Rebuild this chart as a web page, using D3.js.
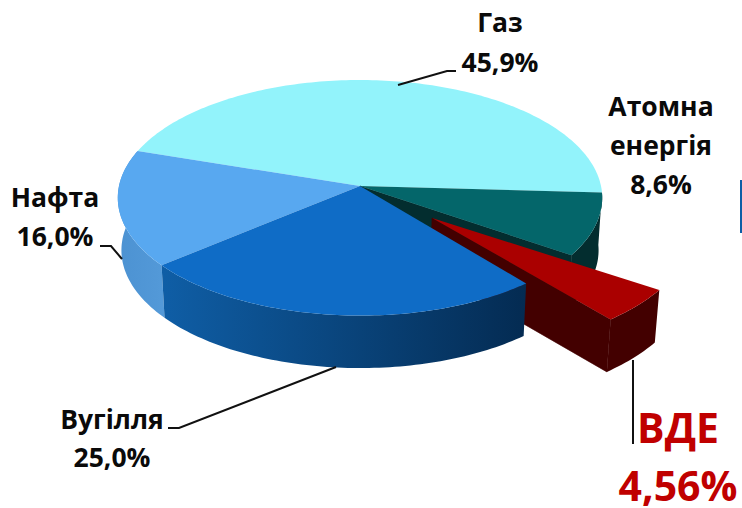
<!DOCTYPE html>
<html><head><meta charset="utf-8">
<script src="https://cdn.jsdelivr.net/npm/d3@7"></script>
<style>html,body{margin:0;padding:0;background:#fff}svg{display:block}text{font-family:"Open Sans",sans-serif;font-weight:700}</style>
</head><body><svg id="c" width="742" height="508"></svg>
<script>
const categories = ["Газ","Атомна енергія","ВДЕ","Вугілля","Нафта"];
const values = [45.9,8.6,4.56,25.0,16.0];
const topColors = ["#92f3fb","#04666a","#aa0000","#0f6cc6","#58a8f0"];
const rimLeft = ["#92f3fb","#032d2f","#430000","#0f5ea6","#4c92d2"];
const rimRight = ["#92f3fb","#032d2f","#430000","#042b52","#5399d8"];
const wallColors = [null,"#032d2f","#430000",null,null];
const exploded = [0,0,1,0,0];
const drawOrder = [0,1,2,4,3];
const labelLines = [
  {lines:["Газ","45,9%"],x:500,y:[32,72],size:26.5,fill:"#0a0a0a"},
  {lines:["Атомна","енергія","8,6%"],x:661,y:[116,155,194],size:26.5,fill:"#0a0a0a"},
  {lines:["Нафта","16,0%"],x:55,y:[207,246],size:26.5,fill:"#0a0a0a"},
  {lines:["Вугілля","25,0%"],x:112,y:[429,467],size:26.5,fill:"#0a0a0a"},
  {lines:["ВДЕ","4,56%"],x:678,y:[443,501],size:41,fill:"#c00000"}
];
const leaders = [
  [[398,85],[447,71],[456,71]],
  [[100,246],[111,246],[122,259]],
  [[168,428],[179,428],[336,367]],
  [[633,360],[633,444]]
];
const svg = d3.select("#c");
const defs = svg.append("defs");
const cx=360, cy=186, R=241, r=116.6, k=0.1, depth=52.5, baseScale=0.985;
const pie = d3.pie().sort(null).value(d=>d)
  .startAngle(-72*Math.PI/180).endAngle(288*Math.PI/180);
const arcs = pie(values);
const line = d3.line();
function proj(a){const s=Math.sin(a),c=Math.cos(a),w=1+k*c;return [cx+R*s/w,cy-r*c/w];}
const shift = p=>[cx+72+(p[0]-cx)*1.075, cy+32+(p[1]-cy)*1.04];
const down = p=>[cx+(p[0]-cx)*baseScale, p[1]+depth];
function arcPts(a0,a1,f){
  const n=Math.max(2,Math.ceil((a1-a0)/0.02));
  return d3.range(n+1).map(i=>f(proj(a0+(a1-a0)*i/n)));
}
const center=[cx,cy];
function paint(i){
  const d=arcs[i], f=exploded[i]?shift:(p=>p);
  const top=arcPts(d.startAngle,d.endAngle,f);
  const base=top.map(down);
  const c=f(center), g=svg.append("g");
  if(wallColors[i]){
    const edge=f(proj(d.endAngle));
    g.append("path").attr("fill",wallColors[i]).attr("stroke",wallColors[i]).attr("stroke-width",0.6)
      .attr("d",line([c,edge,down(edge),down(c)])+"Z");
  }
  const id="rim"+i, xs=d3.extent(top,p=>p[0]);
  const gr=defs.append("linearGradient").attr("id",id).attr("gradientUnits","userSpaceOnUse")
    .attr("x1",xs[0]).attr("x2",xs[1]).attr("y1",0).attr("y2",0);
  gr.append("stop").attr("offset",0).attr("stop-color",rimLeft[i]);
  gr.append("stop").attr("offset",1).attr("stop-color",rimRight[i]);
  if(i!==0) g.append("path").attr("fill",`url(#${id})`)
    .attr("d",line(top.concat(base.slice().reverse()))+"Z");
  g.append("path").datum(i).attr("class","top").attr("fill",topColors[i])
    .attr("d",line([c].concat(top))+"Z");
}
drawOrder.forEach(paint);
svg.selectAll("path.top").filter(i=>i===4||i===3).raise();
svg.append("g").selectAll("path").data(leaders).join("path")
  .attr("d",d=>line(d)).attr("fill","none").attr("stroke","#111").attr("stroke-width",2);
svg.append("rect").attr("x",740).attr("y",180).attr("width",2).attr("height",53).attr("fill","#0d5ea6");
labelLines.forEach(l=>{
  l.lines.forEach((t,i)=>svg.append("text").attr("x",l.x).attr("y",l.y[i])
    .attr("text-anchor","middle").attr("font-size",l.size).attr("fill",l.fill).text(t));
});
</script></body></html>
